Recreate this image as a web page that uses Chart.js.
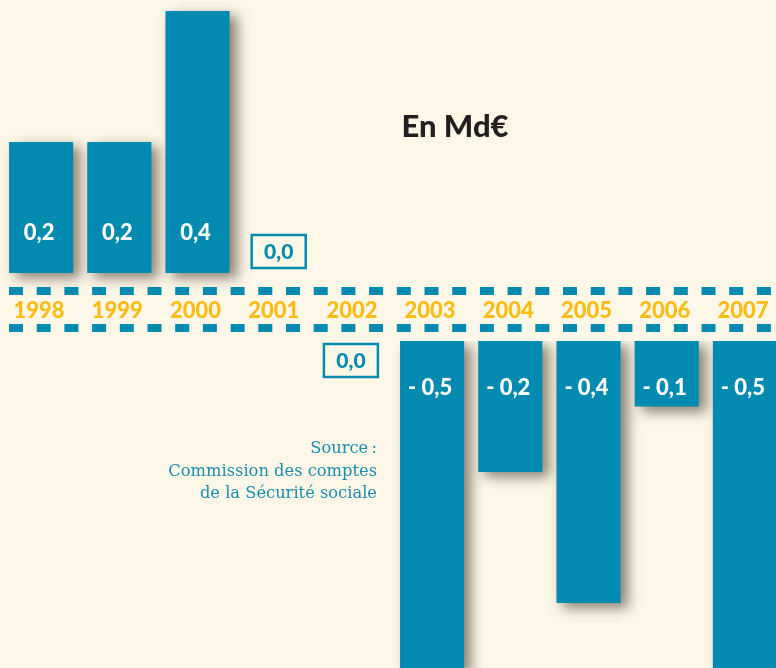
<!DOCTYPE html>
<html>
<head>
<meta charset="utf-8">
<script src="https://cdn.jsdelivr.net/npm/chart.js@4/dist/chart.umd.min.js"></script>
<style>
  body { margin:0; background:#fdf7e8; }
  #page { position:relative; width:776px; height:668px; overflow:hidden; background:#fdf7e8; }
  #haut { position:absolute; left:2px; top:0; }
  #bas { position:absolute; left:2px; top:341px; }
  #titre { position:absolute; left:370px; top:106px; width:170px; text-align:center;
           font-family:Lato, sans-serif; font-weight:900; font-size:31px; color:#231f20; }
  #source { position:absolute; left:40px; top:437px; width:337px; text-align:right;
            font-family:"DejaVu Serif", serif; font-size:16.3px; line-height:22.5px; color:#1b8db0; }
</style>
</head>
<body>
<div id="page">
  <canvas id="haut" width="782" height="341"></canvas>
  <canvas id="bas" width="782" height="327"></canvas>
  <div id="titre">En Md€</div>
  <div id="source">Source&#8239;:<br>Commission des comptes<br>de la Sécurité sociale</div>
</div>
<script>
let annees = ['1998','1999','2000','2001','2002','2003','2004','2005','2006','2007'];
let soldes = [0.2, 0.2, 0.4, 0.0, 0.0, -0.5, -0.2, -0.4, -0.1, -0.5];
let cotes = ['haut','haut','haut','haut','bas','bas','bas','bas','bas','bas'];

let bleu = '#028ab0';
let jaune = '#fdbc14';
let parUnite = 655;

function etiquette(v) {
    let s = Math.abs(v).toFixed(1).replace('.', ',');
    return v < 0 ? '- ' + s : s;
}

// ombre portee sous les barres
let ombre = {
    id: 'ombre',
    beforeDatasetsDraw(chart) {
        let ctx = chart.ctx;
        ctx.save();
        ctx.shadowColor = 'rgba(60,50,35,0.6)';
        ctx.shadowBlur = 12;
        ctx.shadowOffsetX = 7;
        ctx.shadowOffsetY = 5;
    },
    afterDatasetsDraw(chart) {
        chart.ctx.restore();
    }
};

let textes = {
    id: 'textes',
    afterDraw(chart) {
        let ctx = chart.ctx;
        let x = chart.scales.x;
        let y = chart.scales.y;
        let cote = chart.canvas.id;
        let zero = y.getPixelForValue(0);
        ctx.save();
        ctx.textAlign = 'center';
        ctx.textBaseline = 'middle';
        for (let i = 0; i < soldes.length; i++) {
            if (cotes[i] != cote) continue;
            let cx = x.getPixelForValue(i);
            let v = soldes[i];
            if (v == 0) {
                let top = cote == 'haut' ? zero - 38 : zero + 3;
                let left = cote == 'haut' ? cx - 24 : cx - 30;
                ctx.strokeStyle = bleu;
                ctx.lineWidth = 2.5;
                ctx.strokeRect(left, top, 54, 33);
                ctx.fillStyle = bleu;
                ctx.font = '900 21px Lato';
                ctx.fillText(etiquette(v), left + 27, top + 17);
            } else {
                ctx.fillStyle = '#ffffff';
                ctx.font = '900 22px Lato';
                let ty = v > 0 ? zero - 40 : zero + 47;
                ctx.fillText(etiquette(v), cx - 2, ty);
            }
        }
        if (cote == 'haut') {
            ctx.fillStyle = bleu;
            for (let dx = 7; dx < chart.width; dx += 27.7) {
                ctx.fillRect(dx, zero + 14, 14, 8);
                ctx.fillRect(dx, zero + 51, 14, 8);
            }
            ctx.fillStyle = jaune;
            ctx.font = '900 22px Lato';
            for (let i = 0; i < annees.length; i++) {
                ctx.fillText(annees[i], x.getPixelForValue(i) - 2, zero + 38);
            }
        }
        ctx.restore();
    }
};

function graphe(id, hauteur, zeroY) {
    let data = soldes.map((v, i) => cotes[i] == id && v != 0 ? v : null);
    let max = zeroY / parUnite;
    let min = -(hauteur - zeroY) / parUnite;
    return new Chart(document.getElementById(id), {
        type: 'bar',
        plugins: [ombre, textes],
        options: {
            responsive: false,
            animation: false,
            layout: { padding: 0 },
            plugins: { legend: { display: false }, tooltip: { enabled: false } },
            scales: {
                x: { display: false },
                y: { display: false, min: min, max: max }
            }
        },
        data: {
            labels: annees,
            datasets: [{
                data: data,
                backgroundColor: bleu,
                barPercentage: 0.82,
                categoryPercentage: 1
            }]
        }
    });
}

let hautChart = graphe('haut', 341, 273);
let basChart = graphe('bas', 327, 0);
</script>
</body>
</html>
